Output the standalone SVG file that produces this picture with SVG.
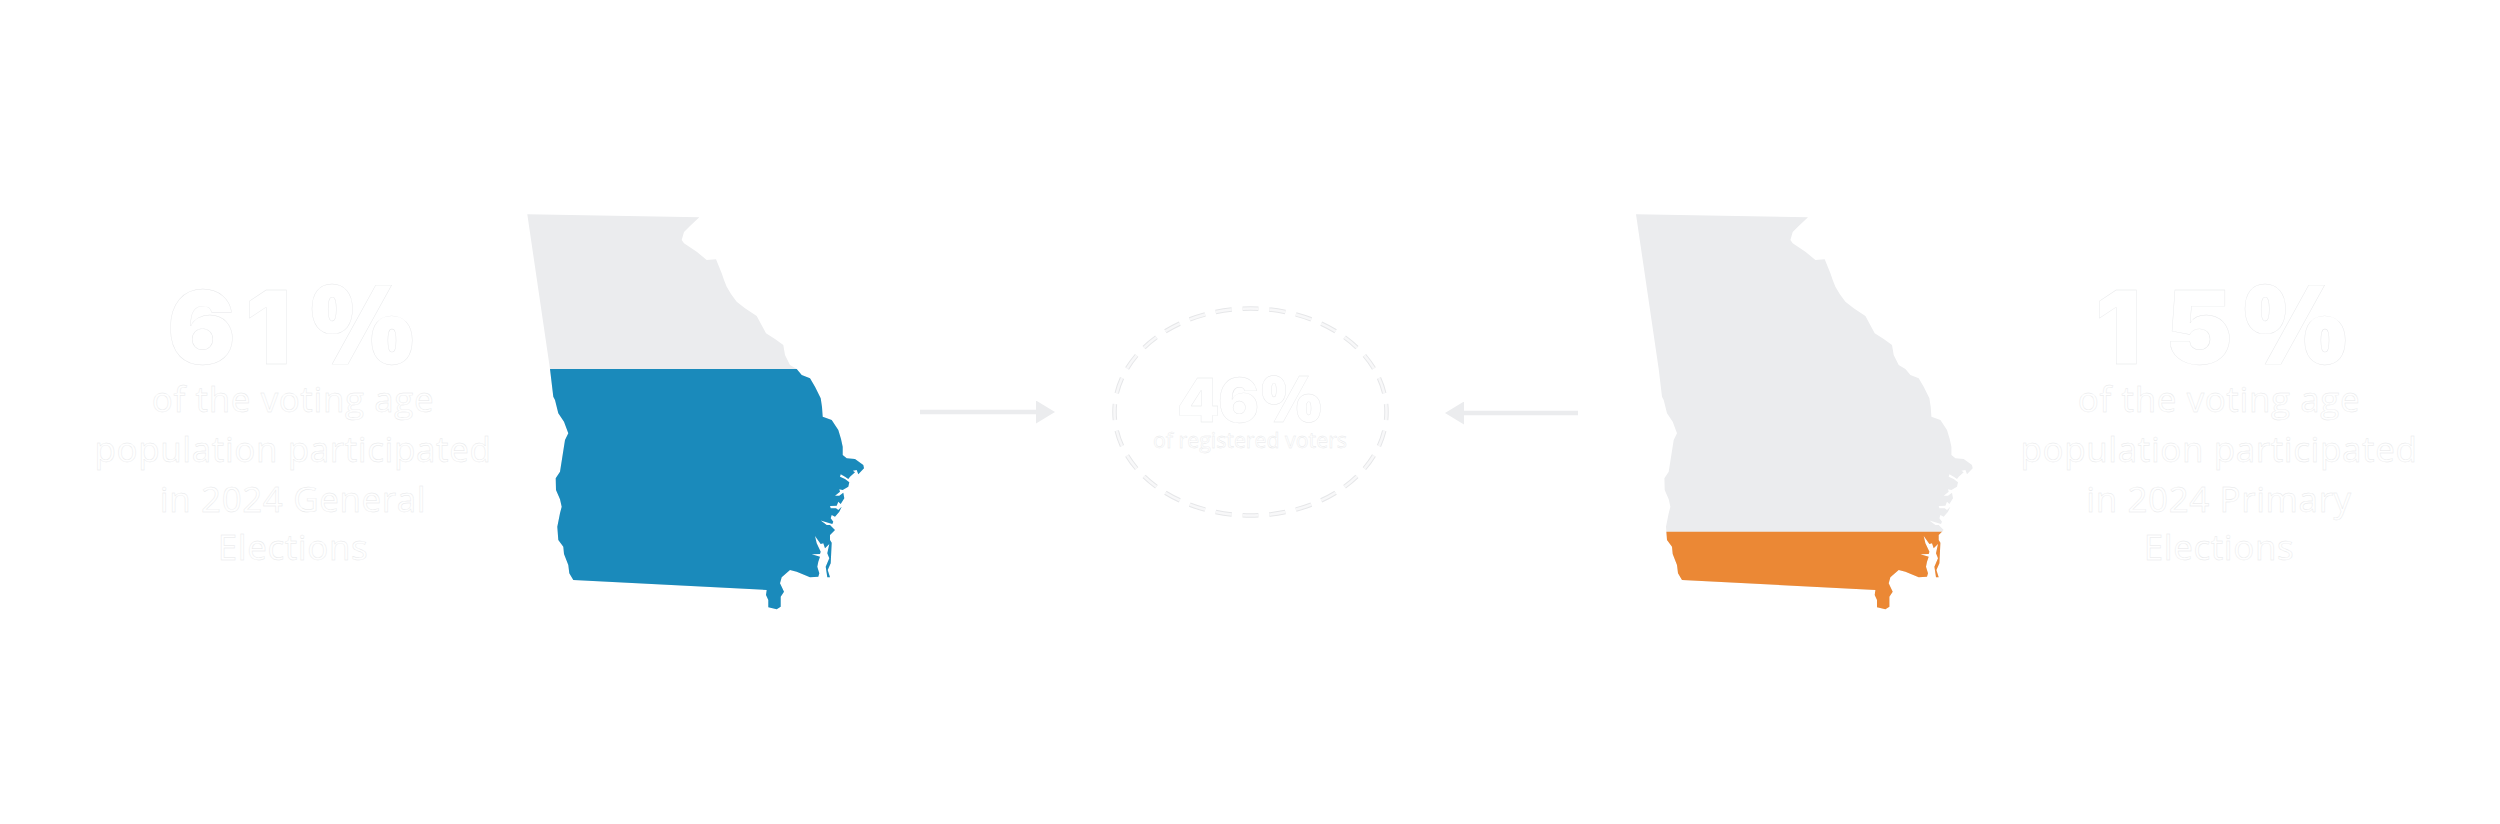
<svg xmlns="http://www.w3.org/2000/svg" width="2500" height="824" viewBox="0 0 2500 824">
<style>
text{font-family:"Open Sans","Noto Sans","Liberation Sans",sans-serif;fill:#fff;stroke:#e6e7e9;stroke-width:.4;text-anchor:middle}
.big,.mid{font-family:Inter,"Open Sans",sans-serif;font-weight:900;text-anchor:start}
.big{font-size:102px}
.mid{font-size:61px}
.pct{font-family:"Open Sans","Noto Sans",sans-serif;font-weight:800}
.sub{font-size:35px;font-weight:400;letter-spacing:.6px}
.small{font-size:22.5px;font-weight:400}
.conn{fill:none;stroke:#ebecee;stroke-width:4.5}
.head{fill:#ebecee}
.ring{fill:none;stroke-dasharray:60 40;stroke-dashoffset:30}
</style>
<defs>
<path id="ga" d="M527.3 214.3L699.3 217.3L690 226L684 232L681.7 240L684 243.3L696.7 251.7L706.7 260L716 259.3L721.7 273.3L724 280L726.7 286.7L731 294L736.7 301.7L745 308.3L756.7 316L761 324L766 333.3L775 339L783.3 345L785 355L790 365L796.7 369L801.7 375L810 378.3L815 386.7L820.7 398.3L822 407L822.7 416.7L831.7 420L838.3 430L841 439L842.7 446.7L842.7 455L846.7 458.3L855 459L863.3 465L864 468.3L858.3 474.3L856.7 470L852.7 470.7L855 472.3L850 476.7L848.3 479L845 476.7L840.7 474.3L840 476.7L845 479L849.3 482.3L848.3 486.7L842.7 490L839.3 489.3L840 491.7L835 495.7L839.3 495.7L843.3 492.7L844.3 498.3L840.7 504L838.3 501.7L836.7 505.7L830 506L830.7 508.3L836 508.3L838.3 510L841.7 506.7L839.3 511.7L835 516.7L831.7 515L830.7 518.3L833.3 521.7L832.3 524L820.7 520.5L826.7 525L830 525L835 530L830 535L830 540L831.7 542.7L830.7 563.3L827.7 570L830 577.3L827.3 577.3L825.7 566.7L829.3 558.3L827.3 553.3L829.3 544L825 548.3L823.3 543.3L820.7 544L815 536L816.7 543.3L820.7 551.7L820 554L811.7 554.3L820 556.7L818.3 561.7L817.3 566.7L819.3 573.3L818.3 576.7L810 577.3L796.7 571.7L790 570L781.7 577.3L780 583.3L784 591.7L780.7 596.7L780.7 606.7L776.7 609.3L768.3 607.3L768.3 600L766 595L766.7 590L573.3 580L569.3 573.3L568.3 565L564 554L563.3 546.7L558.3 540L557.3 526.7L560 513.3L561.7 506.7L560 499.3L556 490L555.7 478.3L560 471.7L565 440L568.3 433.3L564 421.7L558.3 413.3L555 400L553.3 396.7L550 369Z"/>
<clipPath id="c1"><rect x="500" y="369" width="400" height="260"/></clipPath>
<clipPath id="c2"><rect x="500" y="531.7" width="400" height="100"/></clipPath>
<marker id="arrow" markerUnits="userSpaceOnUse" markerWidth="20" markerHeight="23" refX="1" refY="11.5" orient="auto"><path class="head" d="M0 0L19 11.5L0 23Z"/></marker>
</defs>
<g id="left-stat">
<text class="big" x="167 245 310" y="363.5">61<tspan class="pct" font-size="110">%</tspan></text>
<text class="sub" x="293" y="411.5">of the voting age</text>
<text class="sub" x="293" y="461.5">population participated</text>
<text class="sub" x="293" y="511.5">in 2024 General</text>
<text class="sub" x="293" y="560">Elections</text>
</g>
<g id="left-map">
<use href="#ga" fill="#ebecee"/>
<use href="#ga" fill="#1a8abb" clip-path="url(#c1)"/>
</g>
<g id="center-stat">
<ellipse class="ring" cx="1250.5" cy="412" rx="136" ry="103.5" stroke="#e6e7e9" stroke-width="4.5" pathLength="2800"/>
<ellipse class="ring" cx="1250.5" cy="412" rx="136" ry="103.5" stroke="#f8f8f9" stroke-width="2.5" pathLength="2800"/>
<text class="mid" x="1177 1218 1261" y="421.5">46<tspan class="pct" font-size="64">%</tspan></text>
<text class="small" x="1250" y="448.3" textLength="194" lengthAdjust="spacingAndGlyphs">of registered voters</text>
</g>
<g id="connectors">
<path class="conn" d="M920 412H1037" marker-end="url(#arrow)"/>
<path class="conn" d="M1578 413H1463" marker-end="url(#arrow)"/>
</g>
<g id="right-map" transform="translate(1108.7 0)">
<use href="#ga" fill="#ebecee"/>
<use href="#ga" fill="#eb8835" clip-path="url(#c2)"/>
</g>
<g id="right-stat">
<text class="big" x="2095 2165 2243" y="363.5">15<tspan class="pct" font-size="110">%</tspan></text>
<text class="sub" x="2219" y="411.5">of the voting age</text>
<text class="sub" x="2219" y="461.5">population participated</text>
<text class="sub" x="2219" y="511.5">in 2024 Primary</text>
<text class="sub" x="2219" y="560">Elections</text>
</g>
</svg>
